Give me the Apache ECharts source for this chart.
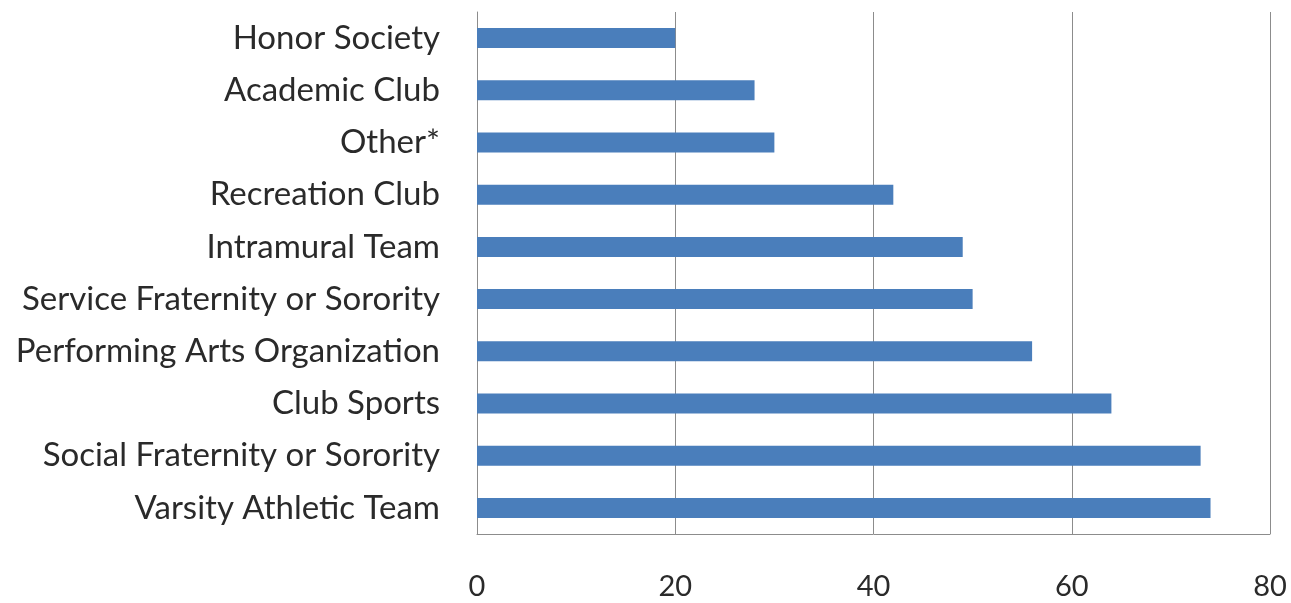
<!DOCTYPE html>
<html>
<head>
<meta charset="utf-8">
<script src="https://cdn.jsdelivr.net/npm/echarts@6/dist/echarts.min.js"></script>
<style>
html,body{margin:0;padding:0;background:#fff;}
#chart{width:1291px;height:603px;}
</style>
</head>
<body>
<div id="chart"></div>
<script>
const categories = [
  "Honor Society",
  "Academic Club",
  "Other*",
  "Recreation Club",
  "Intramural Team",
  "Service Fraternity or Sorority",
  "Performing Arts Organization",
  "Club Sports",
  "Social Fraternity or Sorority",
  "Varsity Athletic Team"
];
const values = [20, 28, 30, 42, 49, 50, 56, 64, 73, 74];
const xTicks = { min: 0, max: 80, interval: 20 };

const chart = echarts.init(document.getElementById('chart'));
chart.setOption({
  animation: false,
  backgroundColor: '#ffffff',
  grid: { left: 477, right: 21, top: 12, bottom: 69, containLabel: false },
  xAxis: {
    type: 'value',
    min: xTicks.min, max: xTicks.max, interval: xTicks.interval,
    axisLine: { show: true, lineStyle: { color: '#8c8c8c', width: 1 } },
    axisTick: { show: false },
    splitLine: { show: true, lineStyle: { color: '#8c8c8c', width: 1 } },
    axisLabel: { color: '#2a2a2a', fontFamily: 'Lato, "Open Sans", sans-serif', fontSize: 29, margin: 38 }
  },
  yAxis: {
    type: 'category',
    data: categories,
    inverse: true,
    axisLine: { show: true, lineStyle: { color: '#8c8c8c', width: 1 } },
    axisTick: { show: false },
    splitLine: { show: false },
    axisLabel: { color: '#2a2a2a', fontFamily: 'Lato, "Open Sans", sans-serif', fontSize: 33, margin: 37 }
  },
  series: [{
    type: 'bar',
    data: values,
    barWidth: 20,
    itemStyle: { color: '#4a7ebb' }
  }]
});
</script>
</body>
</html>
